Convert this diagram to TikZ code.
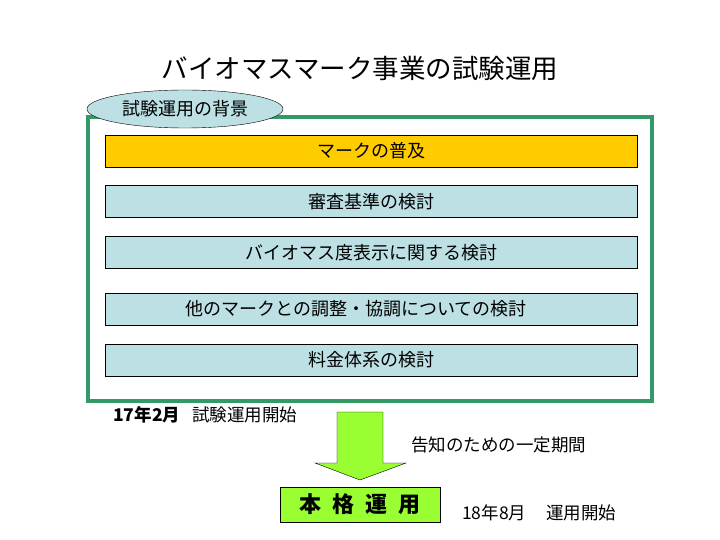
\documentclass[tikz,border=0pt]{standalone}
\usepackage{fontspec}
\setmainfont{Noto Sans CJK JP}
\usetikzlibrary{shapes.geometric}

\definecolor{framegreen}{HTML}{339966}
\definecolor{markgold}{HTML}{FFCC00}
\definecolor{paleblue}{HTML}{BDE0E4}
\definecolor{limegreen}{HTML}{99FF33}

\begin{document}
\begin{tikzpicture}[x=1pt,y=-1pt,
    topic/.style={draw, fill=paleblue, minimum width=532pt, minimum height=32pt, inner sep=0pt, font=\fontsize{18}{20}\selectfont},
    note/.style={anchor=west, inner sep=0pt, font=\fontsize{17.5}{19}\selectfont}]
	  \useasboundingbox (0,0) rectangle (720,540);

	  % Title
	  \node (title) at (360,68) {\fontsize{26.5}{30}\selectfont バイオマスマーク事業の試験運用};

	  % Frame and background label
	  \draw[framegreen, line width=4.5pt] (88,117) rectangle (652,401);
	  \node (bg) [draw, ellipse, fill=paleblue, minimum width=196pt, minimum height=38pt, inner sep=0pt,
	    font=\fontsize{18}{20}\selectfont] at (185,109) {試験運用の背景};

	  % Topics
	  \node (spread) [topic, fill=markgold] at (371,151) {マークの普及};
	  \node (review) [topic] at (371,201.5) {審査基準の検討};
	  \node (degree) [topic] at (371,252.5) {バイオマス度表示に関する検討};
	  \node (other) [topic] at (371,309) {他のマークとの調整・協調についての検討\hspace*{30pt}};
	  \node (fee) [topic] at (371,360) {料金体系の検討};

	  % Schedule
	  \node (trial) [note] at (113,415) {\textbf{17年2月}\hspace{12pt}試験運用開始};
	  \node (period) [note] at (411,445) {告知のための一定期間};
	  \node (full) [draw, fill=limegreen, minimum width=160pt, minimum height=35pt, inner sep=0pt,
	    font=\fontsize{22}{24}\selectfont\bfseries] at (360,504.5) {本\enspace 格\enspace 運\enspace 用};
	  \node (start) [note] at (462,513) {18年8月\hspace{20pt}運用開始};

	  % Arrow
	  \draw[fill=limegreen] (337,412) -- (383,412) -- (383,463) -- (406,463) -- (360,480)
	    -- (315,463) -- (337,463) -- cycle;
	\end{tikzpicture}
\end{document}
